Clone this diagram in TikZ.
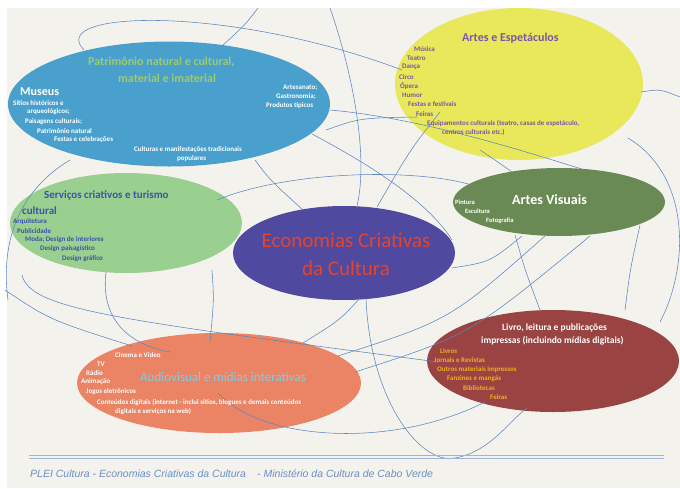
\documentclass[tikz,border=0pt]{standalone}
\usepackage{fontspec}
\setmainfont{Carlito}
\newfontfamily\footfont{Liberation Sans}
\usetikzlibrary{shapes.geometric}
\definecolor{paper}{HTML}{F4F2EC}
\definecolor{wire}{HTML}{5B86C2}
\definecolor{cblue}{HTML}{4AA0CC}
\definecolor{cyellow}{HTML}{E9E85A}
\definecolor{clgreen}{HTML}{99D08F}
\definecolor{cdgreen}{HTML}{6A8A55}
\definecolor{cpurple}{HTML}{5049A0}
\definecolor{cred}{HTML}{9A4343}
\definecolor{csalmon}{HTML}{EA8464}
\definecolor{tgreen}{HTML}{9CCC6A}
\definecolor{tpurple}{HTML}{7D54A8}
\definecolor{tblue}{HTML}{3B53A8}
\definecolor{tred}{HTML}{E5432B}
\definecolor{tgold}{HTML}{F0B020}
\definecolor{tcyan}{HTML}{86C9E0}
\definecolor{tfoot}{HTML}{6B8FC6}
\definecolor{footline}{HTML}{9DB5D8}
\tikzset{
  blob/.style={ellipse, draw=none, inner sep=0pt},
  wirel/.style={draw=wire, line width=0.55pt},
  item/.style={anchor=west, inner sep=0pt, font=\fontsize{7}{8}\selectfont\bfseries},
  head/.style={anchor=west, inner sep=0pt, font=\fontsize{12}{13}\selectfont\bfseries},
}
\begin{document}
\begin{tikzpicture}[x=1pt,y=-1pt]
\useasboundingbox (0,0) rectangle (680,488);
\fill[white] (0,0) rectangle (680,488);
\fill[paper] (7,8) rectangle (680,488);

% ellipses
\node[blob, fill=cblue, minimum width=322pt, minimum height=125pt] (pat) at (169,104) {};
\node[blob, fill=cyellow, minimum width=248pt, minimum height=152pt] (art) at (519,84) {};
\node[blob, fill=clgreen, minimum width=232pt, minimum height=100pt] (serv) at (126,223) {};
\node[blob, fill=cdgreen, minimum width=212pt, minimum height=68pt] (vis) at (559,202) {};
\node[blob, fill=cpurple, minimum width=222pt, minimum height=94pt] (eco) at (344,253) {};
\node[blob, fill=cred, minimum width=252pt, minimum height=102pt] (liv) at (553,361) {};
\node[blob, fill=csalmon, minimum width=284pt, minimum height=100pt] (aud) at (219,383) {};

% connector curves
\draw[wirel] (84,50) .. controls (45,10) and (230,5) .. (402,70);
\draw[wirel] (258,8) .. controls (245,25) .. (222,46);
\draw[wirel] (330,8) .. controls (355,80) and (368,160) .. (357,206);
\draw[wirel] (641,92) .. controls (660,89) .. (680,97);
\draw[wirel] (628,138) .. controls (690,175) and (690,265) .. (660,322);
\draw[wirel] (330,110) .. controls (420,118) and (520,150) .. (585,170);
\draw[wirel] (312,134) .. controls (380,170) and (430,205) .. (452,240);
\draw[wirel] (217,200) .. controls (290,170) and (420,168) .. (475,186);
\draw[wirel] (255,160) .. controls (270,180) .. (303,210);
\draw[wirel] (440,112) .. controls (410,150) .. (377,207);
\draw[wirel] (326,130) .. controls (360,118) .. (417,117);
\draw[wirel] (22,275) .. controls (30,310) and (120,320) .. (438,362);
\draw[wirel] (106,272) .. controls (100,320) and (130,345) .. (170,352);
\draw[wirel] (212,270) .. controls (214,300) .. (210,342);
\draw[wirel] (360,298) .. controls (340,320) .. (303,343);
\draw[wirel] (366,298) .. controls (370,400) and (420,465) .. (455,458) .. controls (490,452) and (510,420) .. (527,408);
\draw[wirel] (218,393) .. controls (260,440) and (390,450) .. (485,402);
\draw[wirel] (338,356) .. controls (450,320) .. (545,236);
\draw[wirel] (355,372) .. controls (470,335) .. (590,236);
\draw[wirel] (5,290) .. controls (50,320) .. (132,346);
\draw[wirel] (70,160) .. controls (20,190) and (0,240) .. (8,300);
\draw[wirel] (452,268) .. controls (490,262) .. (522,236);
\draw[wirel] (515,235) .. controls (525,270) .. (540,310);
\draw[wirel] (640,225) .. controls (630,270) .. (625,310);
\draw[wirel] (480,150) .. controls (495,160) .. (512,172);

% Patrimonio
\node[head, text=tgreen] (patT1) at (88,62) {Patrimônio natural e cultural,};
\node[head, text=tgreen] (patT2) at (118,78) {material e imaterial};
\node[head, text=white] (museus) at (20,92) {Museus};
\begin{scope}[every node/.style={item, text=white}]
\node (p1) at (13,103) {Sítios históricos e};
\node (p2) at (27,112) {arqueológicos;};
\node (p3) at (25,122) {Paisagens culturais;};
\node (p4) at (37,131) {Patrimônio natural};
\node (p5) at (54,140) {Festas e celebrações};
\node (p6) at (283,88) {Artesanato;};
\node (p7) at (276,97) {Gastronomia;};
\node (p8) at (266,106) {Produtos típicos};
\node (p9) at (134,150) {Culturas e manifestações tradicionais};
\node (p10) at (177,159) {populares};
\end{scope}

% Artes e Espetaculos
\node[head, text=tpurple] (artT) at (462,38) {Artes e Espetáculos};
\begin{scope}[every node/.style={item, text=tpurple}]
\node (a1) at (414,49) {Música};
\node (a2) at (407,58) {Teatro};
\node (a3) at (402,67) {Dança};
\node (a4) at (399,77) {Circo};
\node (a5) at (400,86) {Ópera};
\node (a6) at (402,95) {Humor};
\node (a7) at (408,104) {Festas e festivais};
\node (a8) at (416,114) {Feiras};
\node (a9) at (427,123) {Equipamentos culturais (teatro, casas de espetáculo,};
\node (a10) at (442,132) {centros culturais etc.)};
\end{scope}

% Servicos
\node[head, text=tblue, font=\fontsize{11}{12}\selectfont\bfseries] (servT1) at (44,196) {Serviços criativos e turismo};
\node[head, text=tblue, font=\fontsize{11}{12}\selectfont\bfseries] (servT2) at (22,211) {cultural};
\begin{scope}[every node/.style={item, text=tblue}]
\node (s1) at (13,222) {Arquitetura};
\node (s2) at (17,231) {Publicidade};
\node (s3) at (25,240) {Moda; Design de interiores};
\node (s4) at (40,249) {Design paisagístico};
\node (s5) at (62,259) {Design gráfico};
\end{scope}

% Artes Visuais
\node[head, text=white, font=\fontsize{14}{15}\selectfont\bfseries] (visT) at (512,200) {Artes Visuais};
\begin{scope}[every node/.style={item, text=white, font=\fontsize{6.5}{7}\selectfont\bfseries}]
\node (v1) at (455,202) {Pintura};
\node (v2) at (465,211) {Escultura};
\node (v3) at (486,221) {Fotografia};
\end{scope}

% Economias
\node[inner sep=0pt, text=tred, font=\fontsize{21}{22}\selectfont] (ecoT1) at (346,240) {Economias Criativas};
\node[inner sep=0pt, text=tred, font=\fontsize{21}{22}\selectfont] (ecoT2) at (346,268) {da Cultura};

% Livro
\node[head, text=white, font=\fontsize{9.5}{10}\selectfont\bfseries] (livT1) at (502,328) {Livro, leitura e publicações};
\node[head, text=white, font=\fontsize{9.5}{10}\selectfont\bfseries] (livT2) at (481,341) {impressas (incluindo mídias digitais)};
\begin{scope}[every node/.style={item, text=tgold}]
\node (l1) at (440,351) {Livros};
\node (l2) at (434,360) {Jornais e Revistas};
\node (l3) at (437,370) {Outros materiais impressos};
\node (l4) at (447,379) {Fanzines e mangás};
\node (l5) at (463,388) {Bibliotecas};
\node (l6) at (490,397) {Feiras};
\end{scope}

% Audiovisual
\node[head, text=tcyan, font=\fontsize{13}{14}\selectfont] (audT) at (140,377) {Audiovisual e mídias interativas};
\begin{scope}[every node/.style={item, text=white}]
\node (d1) at (115,355) {Cinema e Vídeo};
\node (d2) at (97,364) {TV};
\node (d3) at (86,373) {Rádio};
\node (d4) at (81,382) {Animação};
\node (d5) at (86,392) {Jogos eletrônicos};
\node (d6) at (97,402) {Conteúdos digitais (internet - inclui sítios, blogues e demais conteúdos};
\node (d7) at (115,411) {digitais e serviços na web)};
\end{scope}

% footer
\draw[footline, line width=1pt] (29,455.5) -- (664,455.5);
\draw[footline, line width=1pt] (29,458.8) -- (664,458.8);
\node[anchor=west, inner sep=0pt, text=tfoot, font=\footfont\itshape\fontsize{10.5}{11}\selectfont] (foot) at (30,474) {PLEI Cultura - Economias Criativas da Cultura \enspace\ - Ministério da Cultura de Cabo Verde};
\end{tikzpicture}
\end{document}
